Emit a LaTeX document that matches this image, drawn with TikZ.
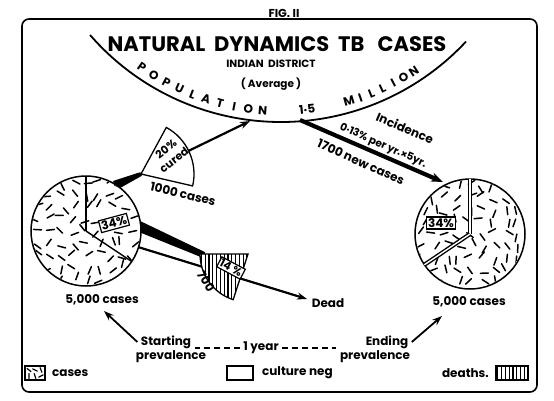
\documentclass[tikz,border=0pt]{standalone}
\usepackage{fontspec}
\setmainfont{Poppins}
\usetikzlibrary{positioning,arrows.meta,patterns.meta}

\begin{document}
\begin{tikzpicture}[
  x=1pt, y=-1pt,
  every node/.style={font=\bfseries\fontsize{12}{13}\selectfont},
  heading/.style={font=\bfseries\fontsize{21}{24}\selectfont},
  subhead/.style={font=\bfseries\fontsize{10.5}{12}\selectfont},
  arcletter/.style={font=\bfseries\fontsize{12}{12}\selectfont, inner sep=0pt},
  frame/.style={line width=1.6pt, rounded corners=7pt},
  popline/.style={line width=1.8pt},
  pie/.style={draw, line width=1.5pt, fill=white},
  speck/.style={line width=1.5pt, line cap=round},
  cut/.style={line width=1.4pt},
  slice/.style={draw, line width=1.3pt, fill=white},
  hatch/.style={draw, line width=1.3pt, preaction={fill=white}, pattern={Lines[angle=90,distance=3.8pt,line width=1.2pt]}},
  pctbox/.style={draw, line width=1.2pt, fill=white, inner sep=1.5pt},
  legbox/.style={draw, line width=1.2pt, minimum width=20pt, minimum height=14pt, inner sep=0pt},
  arrow/.style={-{Stealth[length=10pt,width=7pt]}, line width=2.2pt},
  band/.style={line width=1pt},
  yeardash/.style={line width=1.5pt, dash pattern=on 6pt off 4pt}
]
  \useasboundingbox (0,0) rectangle (554,400);
  \pgfmathsetseed{17}

  % Frame and heading
  \node[subhead, font=\bfseries\fontsize{11.5}{12}\selectfont] (fig) at (284,13) {FIG. II};
  \draw[frame] (22,19) rectangle (537,392);
  \node[heading] (title) at (277,44) {NATURAL\ \ DYNAMICS\ \ TB\ \ \ CASES};
  \node[subhead] (district) at (271,64) {INDIAN\ \ DISTRICT};
  \node[subhead] (average) at (271,84) {( Average )};

  % Population arc
  \coordinate (popc) at (281,-131);
  \draw[popline] (popc) ++(139:253) arc[start angle=139, end angle=43, radius=253];
  \foreach \ch [count=\i] in {P,O,P,U,L,A,T,I,O,N} {
    \pgfmathsetmacro\ang{125.1-3.42*(\i-1)}
    \path (popc) ++(\ang:242) node[arcletter, rotate=90-\ang] (pop\i) {\ch};
  }
  \path (popc) ++(83.8:242) node[arcletter, rotate=6.2] (popnum) {1·5};
  \foreach \ch [count=\i] in {M,I,L,L,I,O,N} {
    \pgfmathsetmacro\ang{73.7-2.83*(\i-1)}
    \path (popc) ++(\ang:242) node[arcletter, rotate=90-\ang] (mil\i) {\ch};
  }

  % Points
  \coordinate (lpie) at (86,231);
  \coordinate (rpie) at (470,234);
  \coordinate (cure) at (141,174);
  \coordinate (death) at (248,254);
  \coordinate (popin) at (250,121);
  \coordinate (popout) at (300,120);
  \coordinate (rin) at (443,182);
  \coordinate (deadtip) at (307,299);

  % Flows
  \draw[arrow] (cure) -- (popin);
  \fill[band] (113,181) -- (140.2,172.2) -- (141.8,175.8) -- (116.6,190) -- cycle;
  \draw[arrow, line width=4.2pt, -{Stealth[length=12pt,width=9pt]}] (popout) -- (rin);
  \draw[arrow] (lpie) -- (deadtip);
  \fill[band] (138,220) -- (205.2,252.2) -- (202.8,257.8) -- (134,230) -- cycle;

  % Pies
  \foreach \c in {lpie,rpie} {
    \draw[pie] (\c) circle[radius=55];
    \begin{scope}
      \clip (\c) circle[radius=54];
      \foreach \gx in {-60,-48,...,60}
        \foreach \gy in {-60,-48,...,60} {
          \pgfmathsetmacro\jx{\gx+4*rand}
          \pgfmathsetmacro\jy{\gy+4*rand}
          \pgfmathsetmacro\jang{180*rnd}
          \draw[speck] (\c) ++(\jx,\jy) ++(\jang:4) -- ++(\jang+180:8);
        }
    \end{scope}
  }
  \draw[cut] (lpie) -- ++(270:55);
  \draw[cut] (lpie) -- ++(33.7:55);
  \draw[cut, double, double distance=1.4pt] (rpie) -- ++(270:55);
  \draw[cut, double, double distance=1.4pt] (rpie) -- ++(146:55);
  \node[pctbox, rotate=15] (lpct) at (114,223) {34\%};
  \node[pctbox] (rpct) at (441,223) {34\%};

  % Cured and deaths slices
  \draw[slice] (cure) -- ++(-61.5:53) arc[start angle=-61.5, end angle=13, radius=53] -- cycle;
  \node[rotate=38, inner sep=0pt, font=\bfseries\fontsize{11}{11}\selectfont] (pcured) at (166,149) {20\%};
  \node[rotate=38, inner sep=0pt, font=\bfseries\fontsize{11}{11}\selectfont] (cured) at (174,160) {cured};
  \node[rotate=-13] (thousand) at (183,194) {1000 cases};
  \draw[hatch] (death) -- ++(108:48) arc[start angle=108, end angle=180, radius=48] -- cycle;
  \node[pctbox, rotate=-28, font=\bfseries\fontsize{11}{11}\selectfont] (dpct) at (231,268) {14 \%};
  \node[rotate=-58, inner sep=0pt] (seven) at (206,281) {700};

  % Incidence labels
  \node[rotate=-23, inner sep=1pt] (incid) at (405,128) {Incidence};
  \node[rotate=-24, inner sep=1pt, font=\bfseries\fontsize{10.5}{11}\selectfont] (rate) at (383,146) {0·13\% per yr.×5yr.};
  \node[rotate=-24, inner sep=1pt] (newcases) at (361,162) {1700 new cases};

  % Prevalence
  \node (lcases) at (102,300) {5,000 cases};
  \node (rcases) at (469,302) {5,000 cases};
  \node (dead) at (328,303) {Dead};
  \node (strt) at (166,342) {Starting};
  \node (sprev) at (171,357) {prevalence};
  \node (yr) at (261,348) {1 year};
  \node (endg) at (387,342) {Ending};
  \node (eprev) at (375,357) {prevalence};
  \coordinate (ltip) at (104,311);
  \coordinate (rtip) at (442,316);
  \draw[yeardash] (yr.west) -- (yr.west -| strt.east);
  \draw[yeardash] (yr.east) -- (yr.east -| eprev.west);
  \draw[arrow, line width=1.8pt] (strt.west) -- (ltip);
  \draw[arrow, line width=1.8pt] (endg.east) -- (rtip);

  % Legend
  \node[legbox] (lgcases) at (35,373) {};
  \begin{scope}
    \clip (lgcases.south west) rectangle (lgcases.north east);
    \foreach \gx in {-6,0,6}
      \foreach \gy in {-3,3} {
        \pgfmathsetmacro\jang{180*rnd}
        \draw[speck, line width=1.2pt] (lgcases) ++(\gx,\gy) ++(\jang:2.5) -- ++(\jang+180:5);
      }
  \end{scope}
  \node[right=3pt of lgcases] (lgcasestxt) {cases};
  \node[legbox, minimum width=26pt] (lgneg) at (240,373) {};
  \node[right=5pt of lgneg] (lgnegtxt) {culture neg};
  \node[legbox, minimum width=32pt, hatch] (lgdeath) at (512,373) {};
  \node[left=3pt of lgdeath] (lgdeathtxt) {deaths.};
\end{tikzpicture}
\end{document}
